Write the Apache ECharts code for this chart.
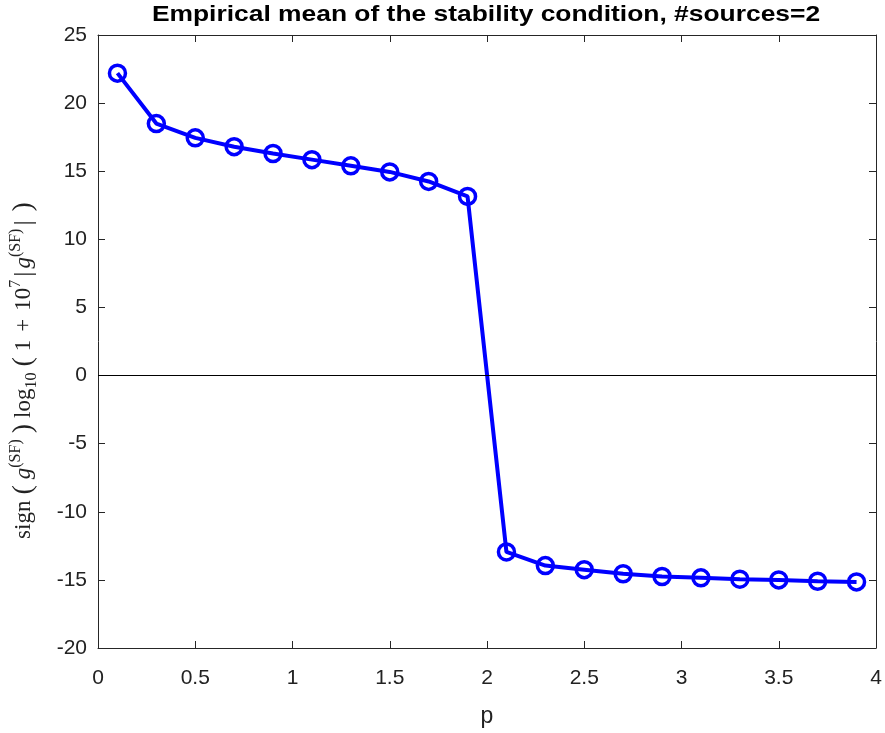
<!DOCTYPE html>
<html>
<head>
<meta charset="utf-8">
<script src="https://cdn.jsdelivr.net/npm/echarts@6/dist/echarts.min.js"></script>
<style>html,body{margin:0;padding:0;background:#fff}#c{width:885px;height:733px}</style>
</head>
<body>
<div id="c"></div>
<script>
var pValues = [0.1,0.3,0.5,0.7,0.9,1.1,1.3,1.5,1.7,1.9,2.1,2.3,2.5,2.7,2.9,3.1,3.3,3.5,3.7,3.9];
var meanValues = [22.2,18.5,17.45,16.8,16.3,15.85,15.4,14.95,14.25,13.15,-12.95,-13.95,-14.25,-14.55,-14.75,-14.85,-14.95,-15.0,-15.1,-15.15];
var xTicks = [0,0.5,1,1.5,2,2.5,3,3.5,4];
var yTicks = [-20,-15,-10,-5,0,5,10,15,20,25];
var titleText = 'Empirical mean of the stability condition, #sources=2';
var xName = 'p';

var chart = echarts.init(document.getElementById('c'));
var axisColor = '#262626';
var font = 'Liberation Sans, Arial, Helvetica, sans-serif';
var serif = 'Liberation Serif, DejaVu Serif, serif';
var data = pValues.map(function(p,i){return [p, meanValues[i]];});
function baseAxis(extra){
  var o = {
    axisLine:{show:true,onZero:false,lineStyle:{color:axisColor,width:1}},
    axisTick:{show:true,inside:true,length:7,lineStyle:{color:axisColor}},
    splitLine:{show:false}
  };
  for (var k in extra) o[k]=extra[k];
  return o;
}
var lh = 32;
chart.setOption({
  backgroundColor:'#fff',
  animation:false,
  graphic:[{type:'text',x:486,y:15,scaleX:1.2,scaleY:1,
    style:{text:titleText,fontFamily:font,fontSize:22,fontWeight:'bold',fill:'#000',
      textAlign:'center',textVerticalAlign:'middle'}}],
  grid:{left:95,right:9,top:35,bottom:80,containLabel:false},
  xAxis:[
    baseAxis({type:'value',min:0,max:4,interval:0.5,position:'bottom',
      name:xName,nameLocation:'middle',nameGap:57,
      nameTextStyle:{fontFamily:font,fontSize:23,color:'#222'},
      axisLabel:{fontFamily:font,fontSize:21,color:'#222',margin:20,
        formatter:function(v){return xTicks.indexOf(v)>=0?String(v):'';}}}),
    baseAxis({type:'value',min:0,max:4,interval:0.5,position:'top',axisLabel:{show:false}})
  ],
  yAxis:[
    baseAxis({type:'value',min:-20,max:25,interval:5,position:'left',
      name:'{n|sign}{p|(}{i|g}{sup|(SF)}{p|)}{n|log}{sub|10}{p|(}{n|1}{op|+}{n|10}{sup|7}{bar||}{i|g}{sup|(SF)}{bar||}{p|)}',
      nameLocation:'middle',nameGap:58,
      nameTextStyle:{fontFamily:serif,color:'#222',padding:[0,52,0,0],
        rich:{
          n:{fontFamily:serif,fontSize:23,color:'#222',lineHeight:lh,verticalAlign:'middle'},
          op:{fontFamily:serif,fontSize:23,color:'#222',lineHeight:lh,verticalAlign:'middle',padding:[0,8]},
          p:{fontFamily:serif,fontSize:28,color:'#222',lineHeight:lh,verticalAlign:'middle',padding:[0,6]},
          bar:{fontFamily:serif,fontSize:26,color:'#222',lineHeight:lh,verticalAlign:'middle',padding:[0,3]},
          i:{fontFamily:serif,fontSize:23,fontStyle:'italic',color:'#222',lineHeight:lh,verticalAlign:'middle'},
          sup:{fontFamily:serif,fontSize:16,color:'#222',lineHeight:lh,verticalAlign:'top'},
          sub:{fontFamily:serif,fontSize:16,color:'#222',lineHeight:lh,verticalAlign:'bottom'}
        }},
      axisLabel:{fontFamily:font,fontSize:21,color:'#222',margin:11,
        formatter:function(v){return yTicks.indexOf(v)>=0?String(v):'';}}}),
    baseAxis({type:'value',min:-20,max:25,interval:5,position:'right',axisLabel:{show:false}})
  ],
  series:[{
    type:'line',
    data:data,
    xAxisIndex:0,yAxisIndex:0,
    symbol:'circle',symbolSize:16,showAllSymbol:true,
    lineStyle:{color:'#0000ff',width:4},
    itemStyle:{color:'rgba(0,0,0,0)',borderColor:'#0000ff',borderWidth:3.5},
    markLine:{silent:true,symbol:'none',label:{show:false},
      lineStyle:{color:'#000',width:1,type:'solid'},
      data:[{yAxis:0}]},
    z:3
  }]
});
</script>
</body>
</html>
